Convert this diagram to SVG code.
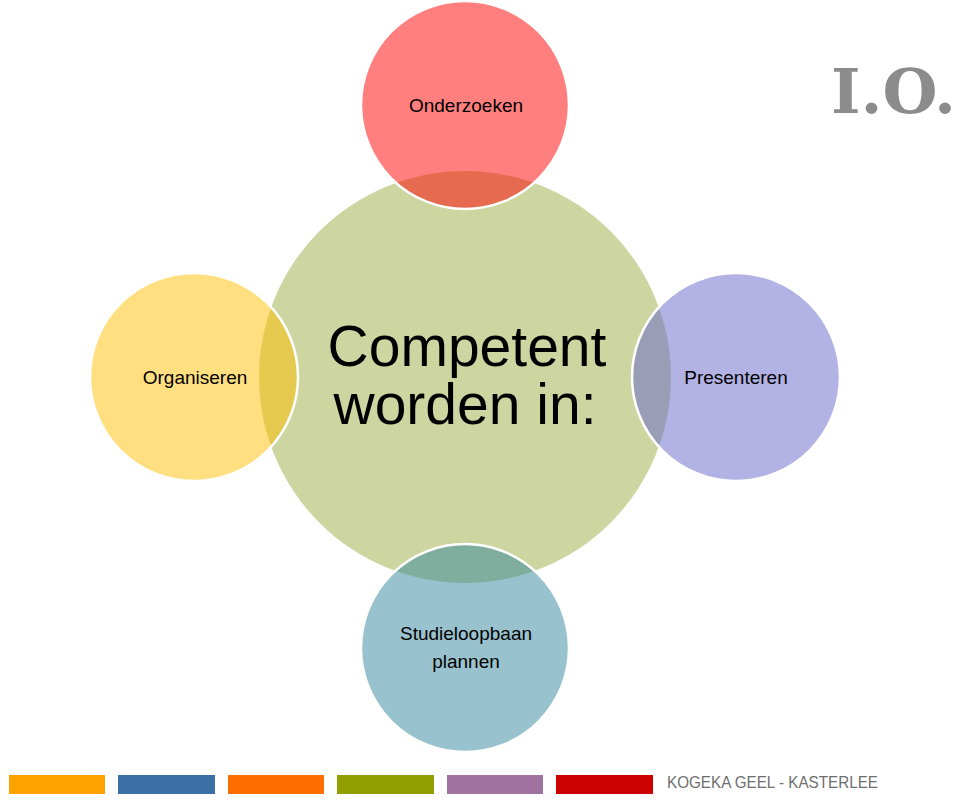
<svg xmlns="http://www.w3.org/2000/svg" width="960" height="802" viewBox="0 0 960 802">
<style>
.sat{stroke:#fff;stroke-width:2.5}
.lbl{font-family:"Liberation Sans",Arial,sans-serif;font-size:19px;fill:#000;text-anchor:middle}
.big{font-family:"Liberation Sans",Arial,sans-serif;font-size:57px;fill:#000;text-anchor:middle}
</style>
<rect width="960" height="802" fill="#fff"/>
<g id="center"><circle cx="465" cy="377" r="206" fill="#CDD5A1"/>
<text class="big" x="467" y="366">Competent</text><text class="big" x="465" y="424">worden in:</text></g>
<g id="onderzoeken"><circle class="sat" cx="465" cy="105" r="104" fill="#FF0000" fill-opacity="0.5"/><text class="lbl" x="466" y="112">Onderzoeken</text></g>
<g id="organiseren"><circle class="sat" cx="194" cy="377" r="104" fill="#FFC000" fill-opacity="0.5"/><text class="lbl" x="195" y="384">Organiseren</text></g>
<g id="presenteren"><circle class="sat" cx="736" cy="377" r="104" fill="#6666CC" fill-opacity="0.5"/><text class="lbl" x="736" y="384">Presenteren</text></g>
<g id="studieloopbaan"><circle class="sat" cx="465" cy="648" r="104" fill="#31859C" fill-opacity="0.5"/><text class="lbl" x="466" y="640">Studieloopbaan</text><text class="lbl" x="466" y="668">plannen</text></g>
<g id="connectors"></g>
<text x="831" y="113" font-family="'DejaVu Serif',serif" font-weight="bold" font-size="62" fill="#8C8C8C" textLength="125" lengthAdjust="spacingAndGlyphs">I.O.</text>
<g id="footer">
<rect x="9" y="775" width="96" height="19" fill="#FFA200"/>
<rect x="118" y="775" width="97" height="19" fill="#3C6FA4"/>
<rect x="228" y="775" width="96" height="19" fill="#FF6E00"/>
<rect x="337" y="775" width="97" height="19" fill="#91A000"/>
<rect x="447" y="775" width="96" height="19" fill="#A072A0"/>
<rect x="556" y="775" width="97" height="19" fill="#CC0000"/>
<text x="667" y="788" font-family="'Liberation Sans',Arial,sans-serif" font-size="17" fill="#6E6E6E" textLength="211" lengthAdjust="spacingAndGlyphs">KOGEKA GEEL - KASTERLEE</text>
</g>
</svg>
